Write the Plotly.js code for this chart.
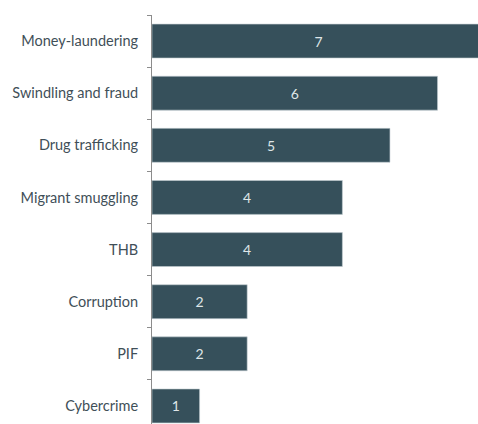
<!DOCTYPE html>
<html>
<head>
<meta charset="utf-8">
<script src="https://cdn.plot.ly/plotly-3.0.1.min.js"></script>
<style>
html,body{margin:0;padding:0;overflow:hidden;background:#fff;}
#chart{width:478px;height:440px;}
</style>
</head>
<body>
<div id="chart"></div>
<script>
var categories = ["Money-laundering","Swindling and fraud","Drug trafficking","Migrant smuggling","THB","Corruption","PIF","Cybercrime"];
var values = [7,6,5,4,4,2,2,1];

var trace = {
  type: "bar",
  orientation: "h",
  y: categories,
  x: values,
  text: values.map(String),
  textposition: "inside",
  insidetextanchor: "middle",
  textfont: {family: "Lato, 'Open Sans', sans-serif", size: 14, color: "#dfe6e8"},
  marker: {color: "#36505b", line: {color: "#c3ccd2", width: 0.6}},
  width: 0.65,
  hoverinfo: "none"
};

var layout = {
  width: 478,
  height: 440,
  margin: {l: 152, r: 0, t: 15, b: 8},
  paper_bgcolor: "#ffffff",
  plot_bgcolor: "#ffffff",
  showlegend: false,
  xaxis: {
    range: [0, 6.85],
    visible: false,
    showgrid: false,
    zeroline: false,
    fixedrange: true
  },
  yaxis: {
    type: "category",
    autorange: "reversed",
    showline: true,
    linecolor: "#8c8c8c",
    linewidth: 1,
    ticks: "outside",
    tickson: "boundaries",
    ticklen: 4,
    tickcolor: "#8c8c8c",
    ticklabelstandoff: 10,
    tickfont: {family: "Lato, 'Open Sans', sans-serif", size: 14.5, color: "#3f4f58"},
    showgrid: false,
    zeroline: false,
    fixedrange: true
  }
};

Plotly.newPlot("chart", [trace], layout, {displayModeBar: false, staticPlot: true});
</script>
</body>
</html>
